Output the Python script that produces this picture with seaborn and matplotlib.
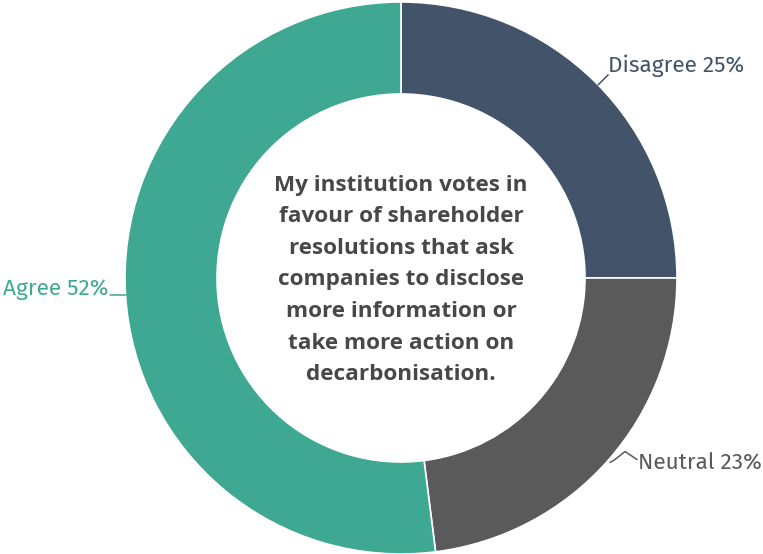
import numpy as np
import matplotlib
matplotlib.use("Agg")
import matplotlib.pyplot as plt
import seaborn as sns

# Survey responses
categories = ["Disagree", "Neutral", "Agree"]
shares = [25, 23, 52]
question = ("My institution votes in\nfavour of shareholder\nresolutions that ask\n"
            "companies to disclose\nmore information or\ntake more action on\ndecarbonisation.")

sns.set_theme(style="white")
plt.rcParams["font.family"] = ["Fira Sans", "Source Sans Pro", "Noto Sans", "DejaVu Sans"]

colors = ["#435369", "#5a5a5a", "#3fa892"]

W, H = 763, 554
fig = plt.figure(figsize=(W / 100, H / 100), dpi=100)
ax = fig.add_axes([0, 0, 1, 1])

cx, cy, R, ring = 401, H - 278, 276, 92
wedges, _ = ax.pie(shares, colors=colors, startangle=90, counterclock=False,
                   radius=R, center=(cx, cy), frame=True,
                   wedgeprops=dict(width=ring, edgecolor="white", linewidth=1.2))
ax.set_xlim(0, W)
ax.set_ylim(0, H)
ax.set_aspect("equal")
ax.axis("off")

ax.text(cx, cy - 2, question, ha="center", va="center", fontsize=16.2,
        fontweight="bold", color="#484848", linespacing=1.66,
        family=["Open Sans", "DejaVu Sans"])

def edge_point(w):
    ang = np.deg2rad((w.theta1 + w.theta2) / 2)
    return cx + R * np.cos(ang), cy + R * np.sin(ang)

lab_kw = dict(fontsize=16.3, va="center")

# Disagree
x0, y0 = edge_point(wedges[0])
ax.plot([x0 + 2, x0 + 12], [y0 - 2, y0 + 8], color=colors[0], lw=1.1)
ax.text(x0 + 12, y0 + 17, f"{categories[0]} {shares[0]}%", ha="left", color=colors[0], **lab_kw)

# Neutral
x1, y1 = edge_point(wedges[1])
ax.plot([x1 + 2, x1 + 7, x1 + 17, x1 + 29], [y1 - 2, y1 + 1, y1 + 9, y1 + 1],
        color=colors[1], lw=1.1)
ax.text(x1 + 30, y1 - 3, f"{categories[1]} {shares[1]}%", ha="left", color=colors[1], **lab_kw)

# Agree
x2, y2 = edge_point(wedges[2])
ax.plot([x2 - 16, x2], [y2, y2], color=colors[2], lw=1.1)
ax.text(x2 - 17, y2 + 6, f"{categories[2]} {shares[2]}%", ha="right", color=colors[2], **lab_kw)

fig.savefig("out.png", dpi=100)
